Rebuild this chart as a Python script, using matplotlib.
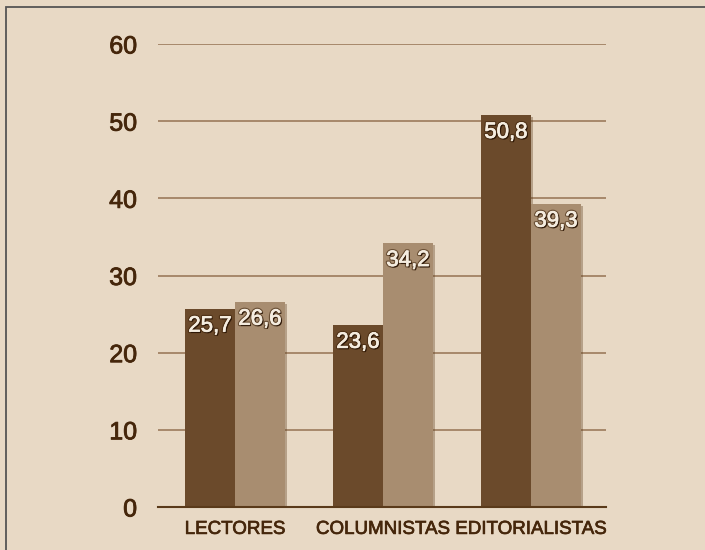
import matplotlib
matplotlib.use("Agg")
import matplotlib.pyplot as plt
import matplotlib.patheffects as pe
from matplotlib.patches import Rectangle
import numpy as np

categories = ["LECTORES", "COLUMNISTAS", "EDITORIALISTAS"]
serie_a = [25.7, 23.6, 50.8]
serie_b = [26.6, 34.2, 39.3]
yticks = [0, 10, 20, 30, 40, 50, 60]

bg = "#E8D9C5"
dark = "#6B4A2B"
light = "#A88D70"
grid_c = "#9C7B5C"
txt_c = "#45260B"

fig = plt.figure(figsize=(7.05, 5.5), dpi=100, facecolor=bg)
fig.patches.append(Rectangle((6/705, -0.05), 1.1, 1 - 7/550 + 0.05, transform=fig.transFigure,
                             fill=False, edgecolor="#555555", linewidth=1.3))
ax = fig.add_axes([158/705, 43/550, 448/705, 463/550])
ax.set_facecolor(bg)
x = np.arange(len(categories))
w = 0.338
shadow = [pe.SimplePatchShadow(offset=(1.5, -1.5), shadow_rgbFace="#5a3a1a", alpha=0.35), pe.Normal()]
b1 = ax.bar(x - w/2, serie_a, w, color=dark, zorder=3, path_effects=shadow)
b2 = ax.bar(x + w/2, serie_b, w, color=light, zorder=3, path_effects=shadow)

ax.set_ylim(0, 60)
ax.set_xlim(-0.52, 2.507)
ax.set_yticks(yticks)
ax.yaxis.grid(True, color=grid_c, linewidth=1.2, zorder=0)
ax.set_axisbelow(True)
for s in ["top", "right", "left"]:
    ax.spines[s].set_visible(False)
ax.spines["bottom"].set_color("#5a3a1a")
ax.spines["bottom"].set_linewidth(1.5)
ax.spines["bottom"].set_zorder(4)
ax.tick_params(axis="y", length=0, pad=15, labelsize=18, labelcolor=txt_c)
ax.tick_params(axis="x", length=0, pad=10, labelsize=13.5, labelcolor=txt_c)
for lab in ax.get_yticklabels():
    lab.set_fontfamily("Liberation Sans")
    lab.set_path_effects([pe.withStroke(linewidth=0.6, foreground=txt_c)])
ax.set_xticks(x)
ax.set_xticklabels(categories, fontfamily="Liberation Sans")
for lab in ax.get_xticklabels():
    lab.set_path_effects([pe.withStroke(linewidth=0.5, foreground=txt_c)])

for bars, vals in ((b1, serie_a), (b2, serie_b)):
    for b, v in zip(bars, vals):
        ax.annotate(f"{v:.1f}".replace(".", ","), (b.get_x() + b.get_width()/2, v),
                    xytext=(0, -5), textcoords="offset points", ha="center", va="top",
                    fontsize=16, color="#F5EDE0", fontfamily="Liberation Sans", zorder=5,
                    path_effects=[pe.withStroke(linewidth=2.2, foreground="#3a2008", alpha=0.55),
                                  pe.SimplePatchShadow(offset=(1, -1), shadow_rgbFace="#2a1505", alpha=0.9),
                                  pe.withStroke(linewidth=0.5, foreground="#F5EDE0")])

fig.savefig("out.png", dpi=100, facecolor=bg)
